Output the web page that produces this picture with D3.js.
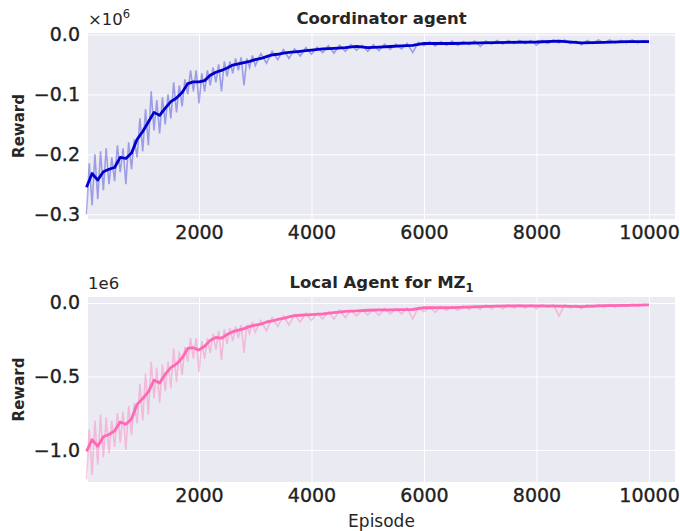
<!DOCTYPE html>
<html>
<head>
<meta charset="utf-8">
<script src="https://cdn.jsdelivr.net/npm/d3@7"></script>
<style>
  body { margin: 0; background: #fff; }
  svg { display: block; font-family: "DejaVu Sans", sans-serif; }
</style>
</head>
<body>
<svg id="chart" width="680" height="531"></svg>
<script>
// raw episodes (every 50 up to 3000, then every 100)
var rawEp = [0,50,100,150,200,250,300,350,400,450,500,550,600,650,700,750,800,850,900,950,
  1000,1050,1100,1150,1200,1250,1300,1350,1400,1450,1500,1550,1600,1650,1700,1750,1800,1850,1900,1950,
  2000,2050,2100,2150,2200,2250,2300,2350,2400,2450,2500,2550,2600,2650,2700,2750,2800,2850,2900,2950,3000,
  3100,3200,3300,3400,3500,3600,3700,3800,3900,4000,4100,4200,4300,4400,4500,4600,4700,4800,4900,5000,
  5100,5200,5300,5400,5500,5600,5700,5800,5900,6000,6100,6200,6300,6400,6500,6600,6700,6800,6900,7000,
  7100,7200,7300,7400,7500,7600,7700,7800,7900,8000,8100,8200,8300,8400,8500,8600,8700,8800,8900,9000,
  9100,9200,9300,9400,9500,9600,9700,9800,9900,10000];

var rawCoord = [-0.300,-0.215,-0.285,-0.200,-0.275,-0.195,-0.260,-0.190,-0.250,-0.205,-0.245,-0.185,-0.230,-0.190,-0.250,-0.180,-0.225,-0.175,-0.205,-0.140,
  -0.195,-0.125,-0.185,-0.095,-0.160,-0.110,-0.165,-0.105,-0.150,-0.100,-0.140,-0.080,-0.130,-0.085,-0.120,-0.075,-0.100,-0.060,-0.095,-0.060,
  -0.115,-0.065,-0.095,-0.060,-0.085,-0.055,-0.080,-0.050,-0.095,-0.045,-0.070,-0.045,-0.065,-0.040,-0.060,-0.038,-0.085,-0.040,-0.055,-0.035,-0.052,
  -0.032,-0.048,-0.028,-0.042,-0.025,-0.040,-0.024,-0.036,-0.022,-0.033,-0.021,-0.030,-0.019,-0.031,-0.018,-0.028,-0.017,-0.026,-0.018,-0.028,
  -0.017,-0.027,-0.016,-0.025,-0.016,-0.024,-0.015,-0.030,-0.013,-0.019,-0.012,-0.019,-0.012,-0.018,-0.011,-0.018,-0.012,-0.017,-0.011,-0.020,
  -0.011,-0.016,-0.010,-0.016,-0.010,-0.015,-0.010,-0.015,-0.010,-0.018,-0.010,-0.015,-0.009,-0.014,-0.009,-0.015,-0.011,-0.017,-0.010,-0.015,
  -0.009,-0.014,-0.009,-0.014,-0.010,-0.014,-0.009,-0.014,-0.010,-0.012];

var rawLocal = [-1.20,-0.86,-1.17,-0.80,-1.10,-0.76,-1.05,-0.78,-1.02,-0.80,-0.98,-0.75,-0.95,-0.74,-1.00,-0.70,-0.90,-0.68,-0.82,-0.55,
  -0.80,-0.48,-0.76,-0.40,-0.65,-0.44,-0.68,-0.42,-0.60,-0.40,-0.58,-0.31,-0.54,-0.33,-0.49,-0.30,-0.40,-0.24,-0.38,-0.24,
  -0.47,-0.26,-0.38,-0.24,-0.34,-0.21,-0.32,-0.19,-0.39,-0.18,-0.28,-0.17,-0.26,-0.16,-0.24,-0.15,-0.34,-0.15,-0.21,-0.13,-0.20,
  -0.12,-0.19,-0.10,-0.16,-0.09,-0.15,-0.08,-0.13,-0.07,-0.12,-0.07,-0.11,-0.06,-0.11,-0.05,-0.10,-0.05,-0.09,-0.05,-0.08,
  -0.045,-0.085,-0.04,-0.075,-0.04,-0.075,-0.035,-0.11,-0.03,-0.06,-0.025,-0.065,-0.025,-0.05,-0.025,-0.05,-0.02,-0.045,-0.02,-0.045,
  -0.015,-0.04,-0.015,-0.04,-0.015,-0.035,-0.01,-0.035,-0.012,-0.04,-0.012,-0.03,-0.012,-0.09,-0.012,-0.035,-0.015,-0.04,-0.012,-0.03,
  -0.01,-0.03,-0.01,-0.028,-0.01,-0.025,-0.008,-0.025,-0.01,-0.015];

// smoothed curves
var smoothEp = [0,100,200,300,400,500,600,700,800,900,1000,1100,1200,1300,1400,1500,1600,1700,1800,1900,
  2000,2100,2200,2300,2400,2500,2600,2700,2800,2900,3000,3100,3200,3300,3400,3500,3600,3700,3800,3900,
  4000,4200,4400,4600,4800,5000,5200,5400,5600,5800,6000,6500,7000,7500,8000,8400,8800,9200,9600,10000];

var smoothCoord = [-0.255,-0.232,-0.243,-0.229,-0.225,-0.222,-0.205,-0.207,-0.198,-0.175,-0.162,-0.146,-0.130,-0.135,-0.123,-0.112,-0.106,-0.097,-0.082,-0.079,
  -0.079,-0.077,-0.068,-0.063,-0.060,-0.056,-0.051,-0.049,-0.047,-0.045,-0.042,-0.040,-0.037,-0.034,-0.033,-0.031,-0.030,-0.029,-0.028,-0.027,
  -0.026,-0.024,-0.023,-0.022,-0.020,-0.022,-0.021,-0.020,-0.019,-0.018,-0.015,-0.015,-0.014,-0.013,-0.0125,-0.011,-0.014,-0.013,-0.012,-0.012];

var smoothLocal = [-1.01,-0.93,-0.975,-0.91,-0.895,-0.87,-0.81,-0.825,-0.79,-0.69,-0.65,-0.605,-0.525,-0.545,-0.485,-0.44,-0.415,-0.375,-0.31,-0.305,
  -0.32,-0.295,-0.255,-0.235,-0.24,-0.215,-0.196,-0.185,-0.175,-0.16,-0.152,-0.145,-0.13,-0.123,-0.112,-0.105,-0.095,-0.086,-0.084,-0.082,
  -0.080,-0.075,-0.066,-0.058,-0.055,-0.050,-0.048,-0.048,-0.046,-0.045,-0.033,-0.032,-0.026,-0.021,-0.020,-0.022,-0.025,-0.019,-0.017,-0.014];

var xTicks = [2000, 4000, 6000, 8000, 10000];
var coordTicks = [0, -0.1, -0.2, -0.3];
var localTicks = [0, -0.5, -1.0];

var svg = d3.select("#chart");
var left = 88, right = 675;

function fmt(d) {
  var s = d3.format(".1f")(Math.abs(d));
  return d < 0 ? "\u2212" + s : s;
}

function panel(o) {
  var x = d3.scaleLinear().domain([27, 10462]).range([left, right]);
  var y = d3.scaleLinear().domain(o.yDomain).range([o.bottom, o.top]);
  var g = svg.append("g");

  g.append("rect")
    .attr("x", left).attr("y", o.top)
    .attr("width", right - left).attr("height", o.bottom - o.top)
    .attr("fill", "#eaeaf2");

  // grid
  var gx = g.append("g").attr("transform", "translate(0," + o.bottom + ")")
    .call(d3.axisBottom(x).tickValues(xTicks).tickSize(-(o.bottom - o.top)).tickFormat(""));
  var gy = g.append("g").attr("transform", "translate(" + left + ",0)")
    .call(d3.axisLeft(y).tickValues(o.yTicks).tickSize(-(right - left)).tickFormat(""));
  [gx, gy].forEach(function(a) {
    a.select(".domain").remove();
    a.selectAll("line").attr("stroke", "#fff").attr("stroke-width", 1);
  });

  var line = d3.line()
    .x(function(d) { return x(d[0]); })
    .y(function(d) { return y(d[1]); });

  g.append("path")
    .datum(d3.zip(rawEp, o.raw))
    .attr("d", line)
    .attr("fill", "none")
    .attr("stroke", o.color)
    .attr("stroke-opacity", o.rawOpacity)
    .attr("stroke-width", 1.6);

  g.append("path")
    .datum(d3.zip(smoothEp, o.smooth))
    .attr("d", line)
    .attr("fill", "none")
    .attr("stroke", o.color)
    .attr("stroke-width", 2.8)
    .attr("stroke-linejoin", "round");

  // tick labels
  var ax = g.append("g").attr("transform", "translate(0," + o.bottom + ")")
    .call(d3.axisBottom(x).tickValues(xTicks).tickSize(0).tickPadding(7).tickFormat(d3.format("d")));
  var ay = g.append("g").attr("transform", "translate(" + left + ",0)")
    .call(d3.axisLeft(y).tickValues(o.yTicks).tickSize(0).tickPadding(8).tickFormat(fmt));
  [ax, ay].forEach(function(a) {
    a.select(".domain").remove();
    a.selectAll("text").attr("font-size", 19).attr("fill", "#222")
      .attr("font-family", "DejaVu Sans, sans-serif")
      .attr("stroke", "#222").attr("stroke-width", 0.35);
  });

  g.append("text")
    .attr("transform", "translate(24," + ((o.top + o.bottom) / 2) + ") rotate(-90)")
    .attr("text-anchor", "middle")
    .attr("font-size", 15).attr("font-weight", "bold").attr("fill", "#262626")
    .text("Reward");

  var t = g.append("text")
    .attr("x", (left + right) / 2).attr("y", o.top - 9)
    .attr("text-anchor", "middle")
    .attr("font-size", 16.5).attr("font-weight", "bold").attr("fill", "#262626");
  t.append("tspan").text(o.title);
  if (o.sub) {
    t.append("tspan").attr("font-size", 11.5).attr("dy", 4).text(o.sub);
  }

  var m = g.append("text")
    .attr("x", left).attr("y", o.top - 8)
    .attr("font-size", 16.5).attr("fill", "#262626");
  m.append("tspan").text(o.mult);
  if (o.multExp) {
    m.append("tspan").attr("font-size", 11.5).attr("dy", -7).text(o.multExp);
  }
}

panel({
  top: 33, bottom: 219, yDomain: [-0.308, 0.0025], yTicks: coordTicks,
  raw: rawCoord, smooth: smoothCoord, color: "#0000cd", rawOpacity: 0.33,
  title: "Coordinator agent", mult: "\u00d710", multExp: "6"
});

panel({
  top: 297, bottom: 482, yDomain: [-1.218, 0.04], yTicks: localTicks,
  raw: rawLocal, smooth: smoothLocal, color: "#ff69b4", rawOpacity: 0.38,
  title: "Local Agent for MZ", sub: "1", mult: "1e6"
});

svg.append("text")
  .attr("x", (left + right) / 2).attr("y", 527)
  .attr("text-anchor", "middle")
  .attr("font-size", 17).attr("fill", "#262626")
  .text("Episode");
</script>
</body>
</html>
